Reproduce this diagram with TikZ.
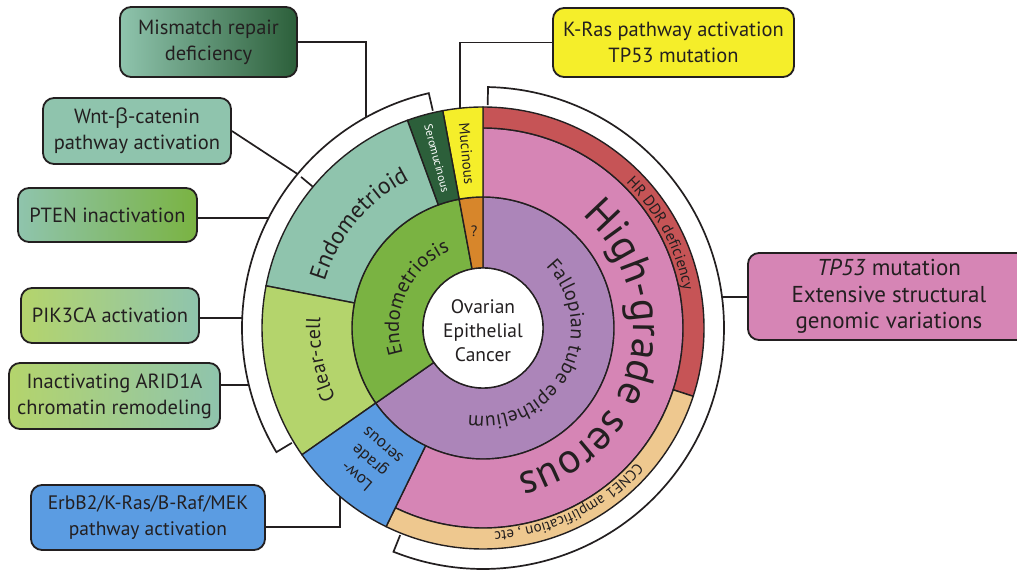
\documentclass[tikz,border=0pt]{standalone}
\usepackage{fontspec}
\setmainfont{PT Sans}
\newfontfamily\grkfont{Open Sans}
\usetikzlibrary{decorations.text}
\definecolor{txt}{HTML}{231F20}
\definecolor{tealc}{HTML}{8FC4AD}
\definecolor{dkgreen}{HTML}{2C5F3A}
\definecolor{yel}{HTML}{F5EE2A}
\definecolor{orng}{HTML}{D7862B}
\definecolor{emgreen}{HTML}{7AB342}
\definecolor{ltgreen}{HTML}{B4D46C}
\definecolor{blu}{HTML}{5B9CE2}
\definecolor{purp}{HTML}{AC85B9}
\definecolor{pinkc}{HTML}{D685B5}
\definecolor{redc}{HTML}{C65456}
\definecolor{tanc}{HTML}{EEC88F}
\newcommand\annsec[5]{%
  \path[sect, fill=#1] (#2:#4) arc[start angle=#2, end angle=#3, radius=#4] -- (#3:#5) arc[start angle=#3, end angle=#2, radius=#5] -- cycle;}
\begin{document}
\begin{tikzpicture}[x=1pt,y=1pt,
  box/.style={draw=txt, line width=1.8pt, rounded corners=11pt, align=center, inner sep=0pt, text=txt, font=\fontsize{20.5}{26}\selectfont},
  conn/.style={draw=txt, line width=1.7pt},
  sect/.style={draw=txt, line width=1.4pt},
  lbl/.style={text=txt, inner sep=0pt}]
\useasboundingbox (0,0) rectangle (1017,570);
\fill[white] (0,0) rectangle (1017,570);
\coordinate (c) at (483,242);
\begin{scope}[shift={(c)}]
  % inner ring
  \annsec{purp}{90}{-145}{60}{131}
  \annsec{emgreen}{100.5}{215}{60}{131}
  \annsec{orng}{90}{100.5}{60}{131}
  % outer ring
  \annsec{pinkc}{90}{-116}{131}{200}
  \annsec{redc}{90}{-18}{200}{221}
  \annsec{tanc}{-18}{-116}{200}{221}
  \annsec{yel}{90}{100.5}{131}{221}
  \annsec{dkgreen}{100.5}{110}{131}{221}
  \annsec{tealc}{110}{169}{131}{221}
  \annsec{ltgreen}{169}{215}{131}{221}
  \annsec{blu}{215}{244}{131}{221}
  % centre
  \path[sect, fill=white] (0,0) circle[radius=60];
  \node[lbl, align=center, font=\fontsize{19.5}{24}\selectfont] (oec) at (0,-3) {Ovarian\\Epithelial\\Cancer};
  % straight labels
  \node[lbl, text=white, rotate=-75, font=\fontsize{11.5}{12}\selectfont] (sero) at (105.2:176) {Seromucinous};
  \node[lbl, rotate=-84.7, font=\fontsize{15}{16}\selectfont] (muc) at (95.3:175) {Mucinous};
  \node[lbl, font=\fontsize{15}{16}\selectfont] (qm) at (95.3:97) {?};
  \node[lbl, rotate=139.5, align=center, font=\fontsize{17}{20}\selectfont] (lgs) at (229.5:175) {Low-\\grade\\serous};
  % curved labels
  \path[decorate, decoration={text along path, text align=center,
     text={|\fontsize{23.5}{23.5}\selectfont\color{txt}|Endometrioid}}]
     (190:165) arc[start angle=190, end angle=90, radius=165];
  \path[decorate, decoration={text along path, text align=center,
     text={|\fontsize{20}{20}\selectfont\color{txt}|Clear-cell}}]
     (226:163) arc[start angle=226, end angle=156, radius=163];
  \path[decorate, decoration={text along path, text align=center,
     text={|\fontsize{20.5}{20.5}\selectfont\color{txt}|Endometriosis}}]
     (225:84) arc[start angle=225, end angle=86, radius=84];
  \path[decorate, decoration={text along path, text align=center,
     text={|\fontsize{20}{20}\selectfont\color{txt}|Fallopian tube epithelium}}]
     (92.5:88) arc[start angle=92.5, end angle=-147.5, radius=88];
  \path[decorate, decoration={text along path, text align=center,
     text={|\fontsize{42}{42}\selectfont\color{txt}|High-grade serous}}]
     (86:150) arc[start angle=86, end angle=-114, radius=150];
  \path[decorate, decoration={text along path, text align=center,
     text={|\fontsize{15.5}{15.5}\selectfont\color{txt}|HR DDR deficiency}}]
     (88:204) arc[start angle=88, end angle=-32, radius=204];
  \path[decorate, decoration={text along path, text align=center,
     text={|\fontsize{15}{15}\selectfont\color{txt}|CCNE1 amplification , etc}}]
     (-14:204) arc[start angle=-14, end angle=-114, radius=204];
  % brackets
  \draw[conn] (103:223) -- (103:241) arc[start angle=103, end angle=211, radius=241] -- (211:223);
  \draw[conn] (88.8:223) -- (88.8:241) arc[start angle=88.8, end angle=-111.8, radius=241] -- (-111.8:223);
  % connector end points
  \coordinate (bmm) at (119:241);
  \coordinate (bwnt) at (140.3:241);
  \coordinate (bwnta) at (140.3:236.5);
  \coordinate (bwntb) at (140.3:221);
  \coordinate (bpten) at (152.85:241);
  \coordinate (bpik) at (177.6:241);
  \coordinate (barid) at (193.7:241);
  \coordinate (berb) at (229.7:221);
  \coordinate (bkras) at (96:221);
  \coordinate (btp) at (7.36:241);
\end{scope}
% boxes
\node[box, minimum width=177pt, minimum height=70pt,
      left color=tealc, middle color=tealc!75!dkgreen, right color=dkgreen] (mm) at (208.5,528) {Mismatch repair\\deficiency};
\node[box, minimum width=188pt, minimum height=66pt, fill=tealc] (wnt) at (137,439) {Wnt-{\grkfont β}-catenin\\pathway activation};
\node[box, minimum width=179pt, minimum height=54pt,
      left color=tealc, right color=emgreen] (pten) at (107.5,355) {PTEN inactivation};
\node[box, minimum width=178pt, minimum height=55pt,
      left color=ltgreen, right color=tealc] (pik) at (110,254.5) {PIK3CA activation};
\node[box, minimum width=211pt, minimum height=66pt,
      left color=ltgreen, right color=tealc] (arid) at (114.5,174) {Inactivating ARID1A\\chromatin remodeling};
\node[box, minimum width=234pt, minimum height=65pt, fill=blu, font=\fontsize{19.5}{26}\selectfont] (erb) at (148,52.5) {ErbB2/K-Ras/B-Raf/MEK\\pathway activation};
\node[box, minimum width=241pt, minimum height=69pt, fill=yel] (kras) at (673.5,527.5) {K-Ras pathway activation\\TP53 mutation};
\node[box, minimum width=282pt, minimum height=87pt, fill=pinkc, font=\fontsize{23}{26.5}\selectfont] (tp) at (889,273.5) {\textit{TP53} mutation\\Extensive structural\\genomic variations};
% connectors
\draw[conn] (mm.east) -| (bmm);
\draw[conn] (wnt.east) -- (bwnt);
\draw[conn] (bwnta) -- (bwntb);
\draw[conn] (bpten) -- (bpten -| pten.east);
\draw[conn] (bpik) -- (bpik -| pik.east);
\draw[conn] (barid) -- (barid -| arid.east);
\coordinate (erbk) at (340,43);
\draw[conn] (berb) -- (erbk) -- (erbk -| erb.east);
\draw[conn] (kras.west) -| (bkras);
\draw[conn] (btp) -- (btp -| tp.west);
\end{tikzpicture}
\end{document}
